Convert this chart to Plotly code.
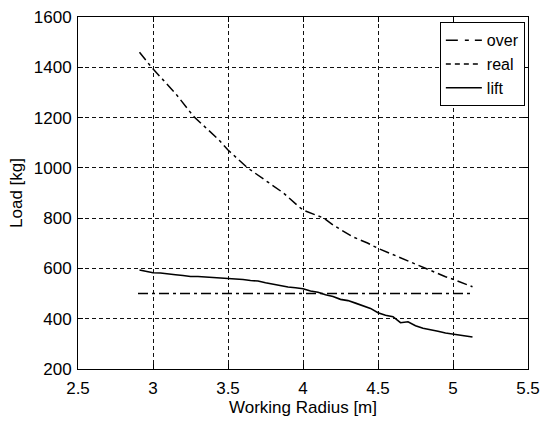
import plotly.graph_objects as go

# Data
over_x = [2.91, 2.99, 3.15, 3.27, 3.44, 3.5, 3.63, 3.75, 3.87, 3.96, 4.0, 4.14, 4.2, 4.33, 4.43, 4.5, 4.63, 4.72, 4.83, 4.95, 5.0, 5.13]
over_y = [1460, 1400, 1296, 1205, 1111, 1071, 1000, 950, 900, 852, 832, 800, 773, 726, 701, 680, 647, 623, 598, 567, 557, 527]

real_x = [2.9, 5.13]
real_y = [500, 500]

lift_x = [2.91, 2.95, 3.0, 3.05, 3.1, 3.15, 3.2, 3.25, 3.3, 3.4, 3.5, 3.6, 3.65, 3.7, 3.75, 3.8,
          3.85, 3.9, 3.95, 4.0, 4.05, 4.1, 4.15, 4.2, 4.25, 4.3, 4.35, 4.4, 4.45, 4.5, 4.55,
          4.6, 4.65, 4.7, 4.75, 4.8, 4.85, 4.9, 4.95, 5.0, 5.05, 5.1, 5.13]
lift_y = [594, 590, 583, 582, 577, 575, 572, 568, 568, 565, 561, 556, 552, 550, 543, 537,
          532, 526, 523, 519, 510, 505, 495, 488, 477, 472, 462, 452, 441, 424, 414,
          408, 384, 388, 372, 362, 357, 350, 343, 339, 335, 330, 327]

x_ticks = [2.5, 3, 3.5, 4, 4.5, 5, 5.5]
y_ticks = [200, 400, 600, 800, 1000, 1200, 1400, 1600]

FONT = "Liberation Sans, Arial, sans-serif"
DASHDOT = "10px,4px,3px,4px"

fig = go.Figure()
fig.add_trace(go.Scatter(x=over_x, y=over_y, mode="lines", name="over", showlegend=False,
                         line=dict(color="black", width=1.5, dash=DASHDOT)))
fig.add_trace(go.Scatter(x=real_x, y=real_y, mode="lines", name="real", showlegend=False,
                         line=dict(color="black", width=1.5, dash=DASHDOT)))
fig.add_trace(go.Scatter(x=lift_x, y=lift_y, mode="lines", name="lift", showlegend=False,
                         line=dict(color="black", width=1.6)))
# legend entries
fig.add_trace(go.Scatter(x=[None], y=[None], mode="lines", name="over",
                         line=dict(color="black", width=1.5, dash="12px,7px,4px,6px")))
fig.add_trace(go.Scatter(x=[None], y=[None], mode="lines", name="real",
                         line=dict(color="black", width=1.5, dash="5px,4px")))
fig.add_trace(go.Scatter(x=[None], y=[None], mode="lines", name="lift",
                         line=dict(color="black", width=1.5)))

axis_common = dict(
    showline=True, linecolor="black", linewidth=1, mirror="ticks",
    ticks="inside", ticklen=5, tickcolor="black", automargin=False,
    showgrid=True, gridcolor="#111", gridwidth=1, griddash="4px,3px",
    zeroline=False, tickfont=dict(family=FONT, size=17, color="black"),
)

fig.update_xaxes(range=[2.5, 5.5], tickvals=x_ticks, ticktext=[str(v) for v in x_ticks],
                 ticklabelstandoff=4,
                 title=dict(text="Working Radius [m]", font=dict(family=FONT, size=17, color="black"),
                            standoff=2),
                 **axis_common)
fig.update_yaxes(range=[200, 1600], tickvals=y_ticks, ticktext=[str(v) for v in y_ticks],
                 ticklabelstandoff=2,
                 title=dict(text="Load [kg]", font=dict(family=FONT, size=17, color="black"),
                            standoff=6),
                 **axis_common)

fig.update_layout(
    width=542, height=421,
    margin=dict(l=78, r=14, t=17, b=52),
    paper_bgcolor="white", plot_bgcolor="white",
    font=dict(family=FONT, size=17, color="black"),
    legend=dict(x=0.993, y=0.985, xanchor="right", yanchor="top",
                bgcolor="white", bordercolor="black", borderwidth=1,
                tracegroupgap=0, font=dict(family=FONT, size=16, color="black"),
                itemwidth=36),
    showlegend=True,
)

fig.write_html("out.html")
